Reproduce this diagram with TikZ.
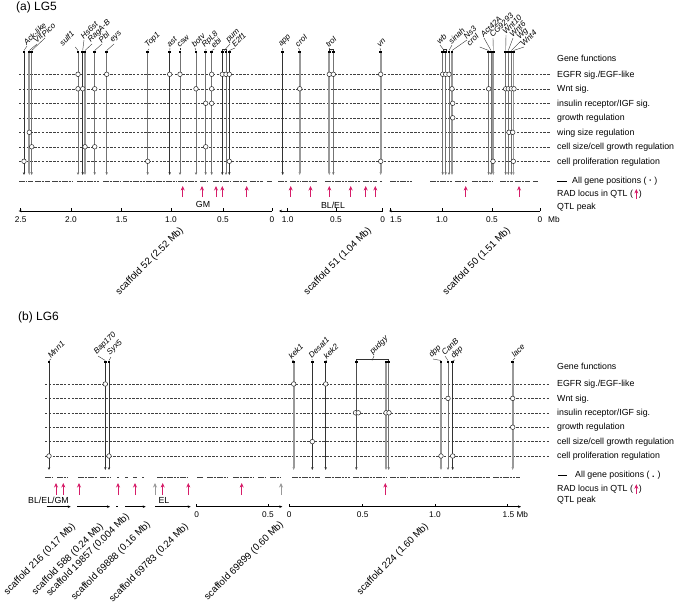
\documentclass[tikz,border=0pt]{standalone}
\usepackage{fontspec}
\setmainfont{Liberation Sans}
\usetikzlibrary{arrows.meta,calc}
\definecolor{radred}{RGB}{214,28,104}

\begin{document}
\begin{tikzpicture}[x=1pt, y=-1pt, every node/.style={font=\fontsize{8.8}{10}\selectfont, inner sep=0pt}]
  \tikzset{
    fnrow/.style={black!75, line width=0.5pt, dash pattern=on 2.4pt off 1.4pt},
    gthin/.style={black!55, line width=0.7pt},
    gdark/.style={black!80, line width=0.9pt},
    gbold/.style={black!70, line width=1.6pt},
    gwide/.style={black!40, line width=1.7pt},
    gtip/.style={-{Stealth[length=2.8pt,width=2.4pt]}},
    lead/.style={black!80, line width=0.4pt},
    hit/.style={fill=white, draw=black!85, line width=0.5pt},
    glabel/.style={rotate=45, anchor=south west, font=\fontsize{8}{9}\selectfont\itshape},
    fnlabel/.style={anchor=west},
    radarrow/.style={-{Stealth[length=4.5pt,width=4pt]}, line width=0.9pt, radred},
    greyarrow/.style={radarrow, black!40},
    posbar/.style={black!75, line width=1.5pt, dash pattern=on 2.6pt off 0.7pt},
    mbaxis/.style={line width=0.8pt},
    ticklab/.style={font=\fontsize{8.3}{9}\selectfont},
    scaflab/.style={rotate=45, anchor=east, font=\fontsize{9.7}{11}\selectfont}
  }
  \useasboundingbox (0,0) rectangle (675,607);

  % Panel (a): LG5
  \begin{scope}
    \node (titleA) [anchor=west, font=\fontsize{12}{13}\selectfont] at (16,7) {(a) LG5};

    % function rows
    \node[fnlabel] (fa0) at (557,58) {Gene functions};
    \foreach \r/\fn in {1/{EGFR sig./EGF-like}, 2/{Wnt sig.}, 3/{insulin receptor/IGF sig.},
                        4/{growth regulation}, 5/{wing size regulation},
                        6/{cell size/cell growth regulation}, 7/{cell proliferation regulation}} {
      \draw[fnrow] (19,{59.8+14.5*\r}) -- (550,{59.8+14.5*\r});
      \node[fnlabel] (fa\r) at (557,{60.4+14.5*\r}) {\fn};
    }

    % genes
    \foreach \x/\sty in {24/gdark, 29.3/gwide, 31.7/gthin, 78/gthin, 82.7/gdark, 85/gwide,
                         94.7/gthin, 106.7/gthin, 147.7/gthin, 169.7/gdark, 180/gthin,
                         196/gthin, 205.7/gthin, 211.7/gthin, 222.3/gdark, 226/gthin,
                         229.3/gdark, 282.7/gdark, 299.7/gwide, 329.3/gwide, 333.3/gthin,
                         380.7/gwide, 442.7/gthin, 445.7/gthin, 449/gthin, 452/gwide,
                         488.7/gthin, 491/gthin, 493.3/gwide, 505.7/gthin, 508.3/gthin,
                         511.3/gthin, 513.5/gwide} {
      \draw[\sty, gtip] (\x,52) -- (\x,175);
      \fill[black] ({\x-1.3},50.7) rectangle ({\x+1.3},53.3);
    }
    \draw[lead] (222.3,51) -- (222.3,49.3) -- (226,49.3) -- (226,51);
    \draw[lead] (329.3,51) -- (329.3,49.3) -- (333.3,49.3) -- (333.3,51);
    \draw[lead] (442.7,51) -- (442.7,49.3) -- (445.7,49.3) -- (445.7,51);

    \foreach \x/\lx/\ly/\g [count=\i] in {24/27/46/Ack-like, 29.3/37/44/Vit, 31.7/45/38/Pico,
        82.7/84/40/Hs6st, 85/92/44/RagA-B, 94.7/102/44/Pbl, 106.7/114/44/eys,
        147.7/149/49/Top1, 169.7/170/48/ast, 180/180/48/csw, 196/195/48/botv,
        205.7/206/49/RpL8, 211.7/214.5/49/ebi, 224.2/230/44/pum, 229.3/235/48/E2f1,
        282.7/282.5/48/app, 299.7/298.5/48/croI, 331.3/329/48/troI, 380.7/380/48/vn,
        444.2/440/45/wb, 449/452/45/sinah, 452/467/40/Ns3, 491/484/38/Act42A,
        493.3/493/38/CG9293, 505.7/506/35/Wnt10, 508.3/513/38/Wnt6,
        511.3/521/41/Wg, 513.5/524/47/Wnt4} {
      \coordinate (ta\i) at (\x,50.5);
      \node[glabel] (ga\i) at (\lx,\ly) {\g};
      \draw[lead] (ta\i) -- (ga\i.south west);
    }
    % labels left of their gene
    \foreach \x/\lx/\ly/\g [count=\i] in {78/63/47/sulf1, 488.7/470/47/croI} {
      \coordinate (tb\i) at (\x,50.5);
      \node[glabel] (gb\i) at (\lx,\ly) {\g};
      \draw[lead] (tb\i) -- (gb\i.south east |- gb\i.south west);
    }

    % function hits
    \foreach \x/\r in {24/7, 29.3/5, 31.7/6, 78/1, 78/2, 82.7/2, 85/6, 94.7/2, 94.7/6,
                       106.7/1, 147.7/7, 169.7/1, 180/1, 196/2, 205.7/3, 205.7/6,
                       211.7/1, 211.7/2, 211.7/3, 222.3/1, 226/1, 229.3/1, 229.3/7,
                       299.7/2, 329.3/1, 333.3/1, 380.7/1, 380.7/7, 442.7/1, 445.7/1,
                       449/1, 452/2, 452.7/3, 452.7/4, 488.7/2, 493/7, 505.7/2, 508.3/2,
                       511.3/2, 514/2, 509/5, 512.7/5, 513.3/7}
      \filldraw[hit] (\x,{59.8+14.5*\r}) circle (2.3pt);

    % all gene positions
    \foreach \a/\b in {19/27, 28/33, 35/50, 52/72, 77/100, 103/121, 123/177, 178/197,
                       200/207, 213/230, 233/247, 250/263, 267/272, 278/287, 290/300,
                       302/317, 325/360, 363/377, 380/382, 390/413, 430/453, 455/467,
                       472/493, 500/513, 515/530, 533/538}
      \draw[posbar] (\a,181.7) -- (\b,181.7);

    % RAD loci
    \foreach \x in {182.7, 202, 216, 222.3, 246.7, 290.7, 310.5, 329.3, 350.7, 365.7, 375.3, 465.7, 519}
      \draw[radarrow] (\x,197) -- (\x,186);

    \node (qa1) at (203,204) {GM};
    \node (qa2) at (333,205) {BL/EL};

    % scaffold axes
    \draw[mbaxis, {Stealth[length=3pt,width=2.6pt]}-] (18.7,211) -- (272,211);
    \draw[mbaxis, {Stealth[length=3pt,width=2.6pt]}-] (279,211) -- (382.7,211);
    \draw[mbaxis, {Stealth[length=3pt,width=2.6pt]}-] (389,211) -- (540,211);
    \foreach \x/\lx/\t [count=\i] in {20.7/20.7/2.5, 71/71/2.0, 121.7/121.7/1.5, 171/171/1.0,
                                    223/223/0.5, 272/272/0, 287.7/287.7/1.0, 336/336/0.5,
                                    382.7/382.7/0, 390/396/1.5, 442/442/1.0, 492/492/0.5,
                                    540/540/0} {
      \draw[line width=0.6pt] (\x,211) -- (\x,208.3);
      \node[ticklab] (ka\i) at (\lx,219.5) {\t};
    }
    \node[ticklab, anchor=west] (kaMb) at (548,219.5) {Mb};

    \node[scaflab] (sa1) at (182,229) {scaffold 52 (2.52 Mb)};
    \node[scaflab] (sa2) at (370,229) {scaffold 51 (1.04 Mb)};
    \node[scaflab] (sa3) at (509,229) {scaffold 50 (1.51 Mb)};

    % legend
    \draw[line width=0.6pt] (557,181) -- (567,181);
    \node[fnlabel] (la1) at (572,181) {All gene positions ( \textbf{·} )};
    \node[fnlabel] (la2) at (557,194) {RAD locus in QTL (\hspace{6pt})};
    \draw[radarrow] ($(la2.east)+(-5.8,5)$) -- ($(la2.east)+(-5.8,-5)$);
    \node[fnlabel] (la3) at (557,207) {QTL peak};
  \end{scope}

  % Panel (b): LG6
  \begin{scope}
    \node (titleB) [anchor=west, font=\fontsize{12}{13}\selectfont] at (18,317) {(b) LG6};

    % function rows
    \node[fnlabel] (fb0) at (557,366) {Gene functions};
    \foreach \r/\fn in {1/{EGFR sig./EGF-like}, 2/{Wnt sig.}, 3/{insulin receptor/IGF sig.},
                        4/{growth regulation}, 5/{cell size/cell growth regulation},
                        6/{cell proliferation regulation}} {
      \draw[fnrow] (45,{369.6+14.4*\r}) -- (550,{369.6+14.4*\r});
      \node[fnlabel] (fb\r) at (557,{370+14.4*\r}) {\fn};
    }

    % genes
    \foreach \x/\sty in {49/gdark, 105.3/gdark, 109/gdark, 293.7/gwide, 312.3/gdark,
                         325.7/gdark, 356.3/gbold, 386/gwide, 388.7/gthin, 441/gwide,
                         448/gthin, 452.7/gdark, 512.7/gwide} {
      \draw[\sty, gtip] (\x,362) -- (\x,470);
      \fill[black] ({\x-1.3},360.7) rectangle ({\x+1.3},363.3);
    }
    \draw[lead] (356.3,361) -- (356.3,359) -- (388,359) -- (388,361);

    \foreach \x/\lx/\ly/\g [count=\i] in {49/51/359/Mnn1, 105.3/98/356/Bap170, 109/111/357/Syx5,
        293.7/292/360/kek1, 312.3/312/359/Desat1, 325.7/327/360/kek2, 372/374/356/pudgy,
        441/433/359/dpp, 448/445/356/CanB, 452.7/455/360/dpp, 512.7/515/358/lace} {
      \coordinate (tc\i) at (\x,360.5);
      \node[glabel] (gc\i) at (\lx,\ly) {\g};
      \draw[lead] (tc\i) -- (gc\i.south west);
    }

    % function hits
    \foreach \x/\r in {49/6, 105.3/1, 109/6, 293.7/1, 325.7/1, 312.3/5, 355.5/3, 358.3/3,
                       386/3, 389/3, 441/6, 448/2, 452.7/6, 512.7/2, 512.7/4}
      \filldraw[hit] (\x,{369.6+14.4*\r}) circle (2.3pt);

    % all gene positions
    \foreach \a/\b in {45/53, 57/67, 78/97, 100/110, 117/119, 125/128, 133/137, 142/144,
                       157/187, 197/203, 207/227, 233/253, 258/265, 270/280, 292/320,
                       325/350, 353/387, 390/407, 410/440, 443/490, 493/520}
      \draw[posbar] (\a,477.3) -- (\b,477.3);

    % RAD loci
    \foreach \x in {56, 63.3, 79, 118, 135, 162.7, 188.3, 241.7, 385.3}
      \draw[radarrow] (\x,495) -- (\x,483);
    \foreach \x in {155, 281}
      \draw[greyarrow] (\x,495) -- (\x,483);

    \node (qb1) at (48.5,500) {BL/EL/GM};
    \node (qb2) at (164,500) {EL};

    % scaffold axes
    \foreach \a/\b in {46.7/70.7, 77.3/110, 125/145.7, 155/190.7}
      \draw[mbaxis, -{Stealth[length=3pt,width=2.6pt]}] (\a,506.7) -- (\b,506.7);
    \draw[line width=1.2pt] (116.3,506.7) -- (118.3,506.7);
    \draw[mbaxis, -{Stealth[length=3pt,width=2.6pt]}] (196,506.7) -- (282.3,506.7);
    \draw[mbaxis, -{Stealth[length=3pt,width=2.6pt]}] (289.3,506.7) -- (521,506.7);
    \foreach \x/\t [count=\i] in {196.7/0, 268/0.5, 289.3/0, 362.7/0.5, 435/1.0} {
      \draw[line width=0.6pt] (\x,506.7) -- (\x,504);
      \node[ticklab] (kb\i) at (\x,514.3) {\t};
    }
    \draw[line width=0.6pt] (507.5,506.7) -- (507.5,504);
    \node[ticklab, anchor=west] (kbMb) at (502.5,514.3) {1.5 Mb};

    \node[scaflab] (sb1) at (74,525) {scaffold 216 (0.17 Mb)};
    \node[scaflab] (sb2) at (102,525) {scaffold 588 (0.24 Mb)};
    \node[scaflab] (sb3) at (128,515) {scaffold 19857 (0.004 Mb)};
    \node[scaflab] (sb4) at (149,523) {scaffold 69888 (0.16 Mb)};
    \node[scaflab] (sb5) at (187,525) {scaffold 69783 (0.24 Mb)};
    \node[scaflab] (sb6) at (282,523) {scaffold 69899 (0.60 Mb)};
    \node[scaflab] (sb7) at (427,525) {scaffold 224 (1.60 Mb)};

    % legend
    \draw[line width=0.6pt] (558,475.3) -- (567,475.3);
    \node[fnlabel] (lb1) at (575,475.3) {All gene positions ( \textbf{.} )};
    \node[fnlabel] (lb2) at (557,489.3) {RAD locus in QTL (\hspace{6pt})};
    \draw[radarrow] ($(lb2.east)+(-5.8,5)$) -- ($(lb2.east)+(-5.8,-5)$);
    \node[fnlabel] (lb3) at (557,500.6) {QTL peak};
  \end{scope}
\end{tikzpicture}
\end{document}
